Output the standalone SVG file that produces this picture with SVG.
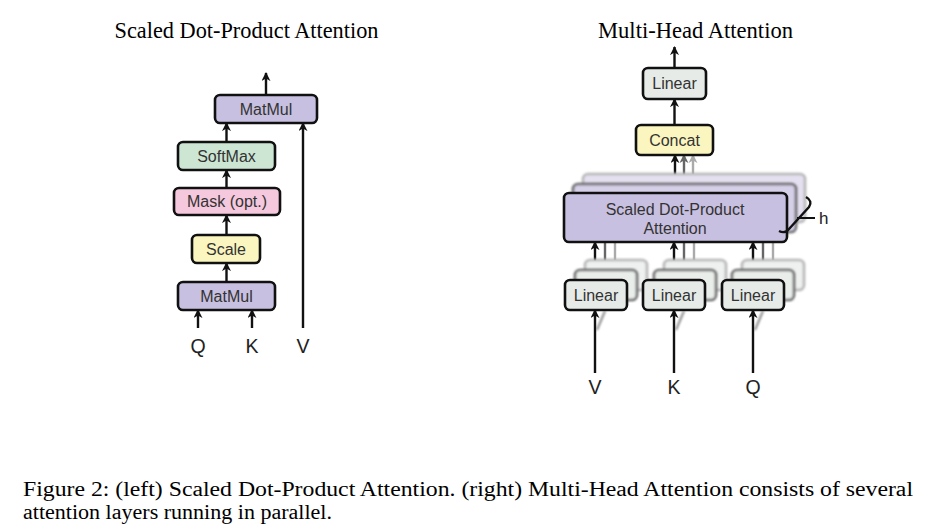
<svg xmlns="http://www.w3.org/2000/svg" width="929" height="524" viewBox="0 0 929 524">
<style>
.box{stroke:#111;stroke-width:2.6}
.lbl{font-family:"Liberation Sans",Arial,sans-serif;font-size:16px;fill:#333;text-anchor:middle;dominant-baseline:central}
.io{font-family:"Liberation Sans",Arial,sans-serif;font-size:19.5px;fill:#222;text-anchor:middle}
.ser{font-family:"Liberation Serif","Times New Roman",serif;fill:#000}
.ar{stroke:#111;stroke-width:2.4;fill:none;marker-end:url(#ah)}
.ar2{stroke:#666;stroke-width:2.4;fill:none;marker-end:url(#ah2)}
.ar3{stroke:#aaa;stroke-width:2.4;fill:none;marker-end:url(#ah3)}
.matmul{fill:#c8c0e0}
.softmax{fill:#cde6d4}
.mask{fill:#f5c8dd}
.yellow{fill:#fbf6c0}
.linear{fill:#e6ebe8}
</style>
<defs>
<marker id="ah" viewBox="0 0 10 10" refX="9" refY="5" markerWidth="9" markerHeight="9" markerUnits="userSpaceOnUse" orient="auto"><path d="M0,0 L10,5 L0,10 L3,5 z" fill="#111"/></marker>
<marker id="ah2" viewBox="0 0 10 10" refX="9" refY="5" markerWidth="9" markerHeight="9" markerUnits="userSpaceOnUse" orient="auto"><path d="M0,0 L10,5 L0,10 L3,5 z" fill="#666"/></marker>
<marker id="ah3" viewBox="0 0 10 10" refX="9" refY="5" markerWidth="9" markerHeight="9" markerUnits="userSpaceOnUse" orient="auto"><path d="M0,0 L10,5 L0,10 L3,5 z" fill="#aaa"/></marker>
<filter id="soft" x="-5%" y="-10%" width="110%" height="120%"><feGaussianBlur stdDeviation="0.8"/></filter>
</defs>

<text class="ser" x="246.5" y="38" font-size="22.5" text-anchor="middle" textLength="264" lengthAdjust="spacingAndGlyphs">Scaled Dot-Product Attention</text>
<text class="ser" x="695.5" y="38" font-size="22.5" text-anchor="middle" textLength="195" lengthAdjust="spacingAndGlyphs">Multi-Head Attention</text>

<!-- Left diagram connectors -->
<g id="left-connectors">
<line class="ar" x1="266" y1="95" x2="266" y2="73"/>
<line class="ar" x1="226.5" y1="142" x2="226.5" y2="123"/>
<line class="ar" x1="226.5" y1="188" x2="226.5" y2="170"/>
<line class="ar" x1="226.5" y1="235" x2="226.5" y2="215"/>
<line class="ar" x1="226.5" y1="282" x2="226.5" y2="263"/>
<line class="ar" x1="198" y1="328" x2="198" y2="310"/>
<line class="ar" x1="252" y1="328" x2="252" y2="310"/>
<line class="ar" x1="303" y1="328" x2="303" y2="123"/>
</g>

<g id="matmul-top"><rect class="box matmul" x="215" y="95" width="102" height="28" rx="5"/><text class="lbl" x="266" y="109">MatMul</text></g>
<g id="softmax"><rect class="box softmax" x="178" y="142" width="97" height="28" rx="5"/><text class="lbl" x="226.5" y="156">SoftMax</text></g>
<g id="mask"><rect class="box mask" x="174" y="188" width="106" height="27" rx="5"/><text class="lbl" x="227" y="201.5">Mask (opt.)</text></g>
<g id="scale"><rect class="box yellow" x="192" y="235" width="68" height="28" rx="5"/><text class="lbl" x="226" y="249">Scale</text></g>
<g id="matmul-bottom"><rect class="box matmul" x="178" y="282" width="97" height="28" rx="5"/><text class="lbl" x="226.5" y="296">MatMul</text></g>
<g id="left-inputs">
<text class="io" x="198" y="353">Q</text>
<text class="io" x="252" y="353">K</text>
<text class="io" x="303" y="353">V</text>
</g>

<!-- Right diagram -->
<g id="right-connectors">
<line class="ar" x1="674.5" y1="68" x2="674.5" y2="47"/>
<line class="ar" x1="674.5" y1="125" x2="674.5" y2="99"/>
<line class="ar3" x1="693" y1="174" x2="693" y2="155"/>
<line class="ar2" x1="684" y1="184" x2="684" y2="155"/>
<line class="ar" x1="675" y1="193" x2="675" y2="155"/>
<g stroke="#aaa" stroke-width="2.4"><line x1="615" y1="260" x2="615" y2="242"/><line x1="694" y1="260" x2="694" y2="242"/><line x1="773" y1="260" x2="773" y2="242"/></g>
<g stroke="#666" stroke-width="2.4"><line x1="605" y1="270" x2="605" y2="242"/><line x1="684" y1="270" x2="684" y2="242"/><line x1="763" y1="270" x2="763" y2="242"/></g>
<line class="ar" x1="595" y1="280" x2="595" y2="242"/>
<line class="ar" x1="674" y1="280" x2="674" y2="242"/>
<line class="ar" x1="753" y1="280" x2="753" y2="242"/>
<g stroke="#888" stroke-width="2" filter="url(#soft)"><line x1="597" y1="330" x2="605" y2="311"/><line x1="676" y1="330" x2="684" y2="311"/><line x1="755" y1="330" x2="763" y2="311"/></g>
<line class="ar" x1="595" y1="373" x2="595" y2="310"/>
<line class="ar" x1="674" y1="373" x2="674" y2="310"/>
<line class="ar" x1="753" y1="373" x2="753" y2="310"/>
</g>

<g id="linear-top"><rect class="box linear" x="643" y="68" width="63" height="31" rx="5"/><text class="lbl" x="674.5" y="83.5">Linear</text></g>
<g id="concat"><rect class="box yellow" x="636" y="125" width="77" height="30" rx="5"/><text class="lbl" x="674.5" y="140">Concat</text></g>

<g id="sdpa">
<rect x="583" y="174" width="222" height="48" rx="5" fill="#e4e0f0" stroke="#b5b5b5" stroke-width="2.6" filter="url(#soft)"/>
<rect x="573" y="184" width="223" height="48" rx="5" fill="#d6cfe8" stroke="#666" stroke-width="2.6" filter="url(#soft)"/>
<rect class="box matmul" x="564" y="193" width="223" height="49" rx="5"/>
<text class="lbl" x="675" y="209">Scaled Dot-Product</text>
<text class="lbl" x="675" y="228">Attention</text>
</g>
<g id="h-brace">
<path d="M806,197 Q813,201 809,207 L789,229 Q785,234 779,231" fill="none" stroke="#111" stroke-width="2.4"/>
<line x1="797" y1="218" x2="815" y2="218" stroke="#111" stroke-width="2"/>
<text x="819" y="224" font-family="Liberation Sans,Arial,sans-serif" font-size="17" fill="#222">h</text>
</g>

<g id="linear-v">
<rect x="585" y="260" width="62" height="30" rx="5" fill="#eef1ef" stroke="#b5b5b5" stroke-width="2.6" filter="url(#soft)"/>
<rect x="575" y="270" width="62" height="30" rx="5" fill="#eaeeeb" stroke="#666" stroke-width="2.6" filter="url(#soft)"/>
<rect class="box linear" x="565" y="280" width="62" height="30" rx="5"/><text class="lbl" x="596" y="295">Linear</text>
</g>
<g id="linear-k">
<rect x="664" y="260" width="62" height="30" rx="5" fill="#eef1ef" stroke="#b5b5b5" stroke-width="2.6" filter="url(#soft)"/>
<rect x="654" y="270" width="62" height="30" rx="5" fill="#eaeeeb" stroke="#666" stroke-width="2.6" filter="url(#soft)"/>
<rect class="box linear" x="643" y="280" width="62" height="30" rx="5"/><text class="lbl" x="674" y="295">Linear</text>
</g>
<g id="linear-q">
<rect x="742" y="260" width="62" height="30" rx="5" fill="#eef1ef" stroke="#b5b5b5" stroke-width="2.6" filter="url(#soft)"/>
<rect x="732" y="270" width="62" height="30" rx="5" fill="#eaeeeb" stroke="#666" stroke-width="2.6" filter="url(#soft)"/>
<rect class="box linear" x="722" y="280" width="62" height="30" rx="5"/><text class="lbl" x="753" y="295">Linear</text>
</g>
<g id="right-inputs">
<text class="io" x="595" y="394">V</text>
<text class="io" x="674" y="394">K</text>
<text class="io" x="753" y="394">Q</text>
</g>

<g id="caption">
<text class="ser" x="23" y="496" font-size="20.5" textLength="890" lengthAdjust="spacingAndGlyphs">Figure 2: (left) Scaled Dot-Product Attention.  (right) Multi-Head Attention consists of several</text>
<text class="ser" x="23" y="519" font-size="20.5" textLength="309" lengthAdjust="spacingAndGlyphs">attention layers running in parallel.</text>
</g>
</svg>
